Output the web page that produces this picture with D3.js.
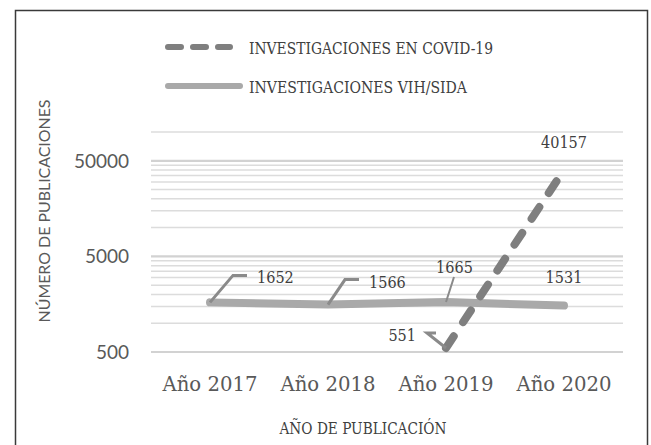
<!DOCTYPE html>
<html>
<head>
<meta charset="utf-8">
<script src="https://cdn.jsdelivr.net/npm/d3@7"></script>
<style>
  html, body { margin: 0; padding: 0; background: #fff; }
  svg { display: block; }
</style>
</head>
<body>
<svg id="chart" width="651" height="445"></svg>
<script>
// ---- Data ----
const categories = ["Año 2017", "Año 2018", "Año 2019", "Año 2020"];
const vihValues = [1652, 1566, 1665, 1531];
const covidValues = [null, null, 551, 40157];
const yTickValues = [500, 5000, 50000];
const seriesNames = ["INVESTIGACIONES EN COVID-19", "INVESTIGACIONES VIH/SIDA"];
const yTitle = "NÚMERO DE PUBLICACIONES";
const xTitle = "AÑO DE PUBLICACIÓN";

// ---- Layout ----
const W = 651, H = 445;
const plot = { left: 151, right: 623, top: 132, bottom: 352 };
const serif = "'DejaVu Serif', 'Liberation Serif', serif";
const sans = "Lato, 'Open Sans', 'Liberation Sans', sans-serif";
const textCol = "#595959";
const covidCol = "#7f7f7f";
const vihCol = "#a9a9a9";

const svg = d3.select("#chart");

// frame
svg.append("rect").attr("x", 15.5).attr("y", 10.5).attr("width", 632).attr("height", 450)
  .attr("fill", "#fff").attr("stroke", "#3a3a3a").attr("stroke-width", 1.5);

const x = d3.scaleBand().domain(categories).range([plot.left, plot.right]);
const xc = c => x(c) + x.bandwidth() / 2;
const y = d3.scaleLog().domain([500, 100000]).range([plot.bottom, plot.top]);

// gridlines (major + minor, Excel-style log minor lines)
const minor = [];
for (let k = 2; k <= 9; k++) minor.push(500 * k);
for (let k = 2; k <= 9; k++) minor.push(5000 * k);
minor.push(100000);
const gridG = svg.append("g");
gridG.selectAll("line.minor").data(minor).join("line")
  .attr("x1", plot.left).attr("x2", plot.right)
  .attr("y1", d => y(d)).attr("y2", d => y(d))
  .attr("stroke", "#dcdcdc").attr("stroke-width", 1.5);
gridG.selectAll("line.major").data(yTickValues).join("line")
  .attr("x1", plot.left).attr("x2", plot.right)
  .attr("y1", d => y(d)).attr("y2", d => y(d))
  .attr("stroke", "#d2d2d2").attr("stroke-width", 2.2);

// y axis
const yAxis = svg.append("g").attr("transform", `translate(${plot.left},0)`)
  .call(d3.axisLeft(y).tickValues(yTickValues).tickFormat(d3.format("d")).tickSize(0).tickPadding(22));
yAxis.select(".domain").remove();
yAxis.selectAll("text").attr("font-family", sans).attr("font-size", 19).attr("fill", textCol)
  .attr("dy", "0.34em");

// x axis
const xAxis = svg.append("g").attr("transform", `translate(0,${plot.bottom})`)
  .call(d3.axisBottom(x).tickSize(0).tickPadding(0));
xAxis.select(".domain").remove();
xAxis.selectAll("text").attr("font-family", serif).attr("font-size", 21).attr("fill", textCol)
  .attr("y", 39).attr("dy", 0)
  .attr("textLength", 95).attr("lengthAdjust", "spacingAndGlyphs");

// axis titles
svg.append("text").attr("transform", "translate(50,211) rotate(-90)")
  .attr("text-anchor", "middle").attr("font-family", sans).attr("font-size", 15.5)
  .attr("fill", textCol).attr("textLength", 223).attr("lengthAdjust", "spacingAndGlyphs")
  .text(yTitle);
svg.append("text").attr("x", 363).attr("y", 434)
  .attr("text-anchor", "middle").attr("font-family", serif).attr("font-size", 16)
  .attr("fill", "#404040").attr("textLength", 167).attr("lengthAdjust", "spacingAndGlyphs")
  .text(xTitle);

// lines
const vihData = categories.map((c, i) => ({ c, v: vihValues[i] }));
const covidData = categories.map((c, i) => ({ c, v: covidValues[i] })).filter(d => d.v != null);
const line = d3.line().x(d => xc(d.c)).y(d => y(d.v));

svg.append("path").datum(vihData).attr("d", line)
  .attr("fill", "none").attr("stroke", vihCol).attr("stroke-width", 8)
  .attr("stroke-linecap", "round").attr("stroke-linejoin", "round");
svg.append("path").datum(covidData).attr("d", line)
  .attr("fill", "none").attr("stroke", covidCol).attr("stroke-width", 8)
  .attr("stroke-linecap", "round").attr("stroke-dasharray", "14 17");

// data labels with leader lines (offsets relative to each point)
const vihLabelLayout = [
  { dx: 47, dy: -19, anchor: "start", leader: [[23, -27], [37, -27]] },
  { dx: 41, dy: -17, anchor: "start", leader: [[17, -25], [31, -25]] },
  { dx: 8.5, dy: -29, anchor: "middle", leader: [[8, -25]] },
  { dx: 0, dy: -23, anchor: "middle", leader: null }
];
const covidLabelLayout = [null, null,
  { dx: -30, dy: -7, anchor: "end", leader: [[-19, -15], [-10, -15]] },
  { dx: 0, dy: -22, anchor: "middle", leader: null }
];

function drawLabels(values, layout) {
  values.forEach((v, i) => {
    const L = layout[i];
    if (v == null || !L) return;
    const px = xc(categories[i]), py = y(v);
    if (L.leader) {
      const pts = [[px, py]].concat(L.leader.map(p => [px + p[0], py + p[1]]));
      svg.append("path").attr("d", d3.line()(pts)).attr("fill", "none")
        .attr("stroke", "#8a8a8a").attr("stroke-width", i === 2 && layout === vihLabelLayout ? 2 : 3);
    }
    const t = svg.append("text").attr("x", px + L.dx).attr("y", py + L.dy)
      .attr("text-anchor", L.anchor).attr("font-family", serif).attr("font-size", 17)
      .attr("fill", "#404040").text(String(v));
    const len = String(v).length;
    t.attr("textLength", len * 9.2).attr("lengthAdjust", "spacingAndGlyphs");
  });
}
drawLabels(vihValues, vihLabelLayout);
drawLabels(covidValues, covidLabelLayout);

// legend
const legend = svg.append("g");
const legendRows = [
  { name: seriesNames[0], y: 47, color: covidCol, dash: "13 12", x2: 233, tl: 244 },
  { name: seriesNames[1], y: 86, color: vihCol, dash: null, x2: 243, tl: 218 }
];
legendRows.forEach(r => {
  legend.append("line").attr("x1", 168).attr("x2", r.x2 - 3).attr("y1", r.y).attr("y2", r.y)
    .attr("stroke", r.color).attr("stroke-width", 6).attr("stroke-linecap", "round")
    .attr("stroke-dasharray", r.dash);
  legend.append("text").attr("x", 249).attr("y", r.y + 6.5)
    .attr("font-family", serif).attr("font-size", 17.5).attr("fill", "#404040")
    .attr("textLength", r.tl).attr("lengthAdjust", "spacingAndGlyphs")
    .text(r.name);
});
</script>
</body>
</html>
